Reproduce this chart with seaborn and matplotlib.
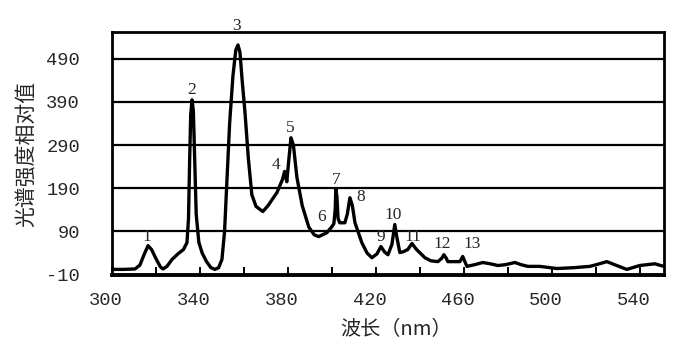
import numpy as np
import pandas as pd
import matplotlib
matplotlib.use("Agg")
import matplotlib.pyplot as plt
import matplotlib.transforms as mtransforms
import seaborn as sns

# ---- data ----
wavelength = [300.5, 305, 310.5, 312.7, 314.5, 316.4, 318, 320, 322, 323.2,
              325, 327.3, 330, 332.5, 334.1, 334.8, 335.3, 335.8, 336.4, 337.0,
              337.6, 338.3, 339.5, 341, 343, 345, 346.8, 348.5, 350, 351.2,
              352.2, 353.5, 355, 356.3, 357.3, 358.2, 359.2, 360.5, 362, 363.6,
              365.5, 368.6, 371, 375, 377.5, 378.5, 379.5, 380.3, 381.4, 382.5,
              384.1, 386.5, 389.5, 392, 394, 397.7, 400, 400.9, 401.5, 401.8,
              402.3, 402.8, 403.6, 405.9, 407, 408.2, 409.3, 410.5, 413.6, 416,
              418.2, 420.5, 422.3, 424, 425.5, 427.3, 428.6, 429.6, 430.9, 432.5,
              434.5, 436.4, 438.5, 442.3, 445, 448.2, 450, 450.9, 452, 452.7,
              456, 458.2, 459.5, 460.3, 461.4, 465, 468.6, 472, 475.5, 479,
              483.2, 486, 489.1, 494.5, 502.3, 510, 517.3, 521, 525, 529,
              534.1, 540, 546.8, 550.9]
intensity = [2, 2, 3, 12, 35, 57, 48, 27, 8, 3,
             9, 25, 38, 48, 64, 120, 250, 360, 395, 370,
             260, 130, 65, 40, 20, 6, 2, 6, 25, 90,
             200, 340, 450, 510, 522, 505, 440, 365, 260, 175,
             148, 136, 150, 180, 210, 229, 205, 250, 307, 290,
             215, 150, 100, 82, 78, 87, 101, 108, 140, 189,
             170, 120, 110, 110, 130, 168, 150, 110, 64, 40,
             29, 38, 55, 42, 36, 60, 106, 75, 41, 43,
             48, 62, 48, 29, 22, 20, 28, 36, 28, 20,
             20, 20, 32, 22, 9, 13, 18, 15, 11, 13,
             18, 13, 9, 9, 4, 6, 9, 14, 20, 12,
             2, 11, 15, 9]

peak_labels = ["1", "2", "3", "4", "5", "6", "7", "8", "9", "10", "11", "12", "13"]
label_x = [316.0, 336.4, 356.8, 374.5, 381.0, 395.5, 401.8, 413.2, 422.3, 427.7, 436.8, 450.0, 463.6]
label_y = [78, 418, 566, 245, 330, 124, 210, 170, 76, 129, 78, 62, 62]

x_ticks = [300, 340, 380, 420, 460, 500, 540]
x_minor = [320, 360, 400, 440, 480, 520]
y_ticks = [-10, 90, 190, 290, 390, 490]
x_label = "波长（nm）"
y_label = "光谱强度相对值"

df = pd.DataFrame({"wavelength": wavelength, "intensity": intensity})

sns.set_style("white")
plt.rcParams["font.family"] = ["Liberation Mono", "Noto Sans CJK SC", "DejaVu Sans"]

fig = plt.figure(figsize=(6.92, 3.56), dpi=100)
ax = fig.add_axes([0.1618, 0.2275, 0.7977, 0.6826])

sns.lineplot(data=df, x="wavelength", y="intensity", ax=ax, color="black",
             linewidth=2.4, sort=False)

ax.set_xlim(300, 551)
ax.set_ylim(-11, 552)
ax.set_xticks(x_ticks)
ax.set_xticks(x_minor, minor=True)
ax.set_yticks(y_ticks)
ax.set_xticklabels([str(v) for v in x_ticks], fontsize=13.5)
ax.set_yticklabels([str(v) for v in y_ticks], fontsize=13.5)
ax.tick_params(axis="x", which="both", direction="in", length=6, width=1.4,
               color="black", pad=12, bottom=True)
ax.tick_params(axis="y", length=0, pad=23)

# x tick labels sit slightly left of their ticks in the reference
shift = mtransforms.ScaledTranslation(-6 / 100, 0, fig.dpi_scale_trans)
for lbl in ax.get_xticklabels():
    lbl.set_transform(lbl.get_transform() + shift)

ax.yaxis.grid(True, color="black", linewidth=1.6)
ax.xaxis.grid(False)
for s in ax.spines.values():
    s.set_color("black")
    s.set_linewidth(2.0)
ax.spines["bottom"].set_linewidth(2.8)

for t, lx, ly in zip(peak_labels, label_x, label_y):
    ax.text(lx, ly, t, ha="center", va="center", fontsize=12.5, clip_on=False,
            family=["Liberation Serif"])

ax.set_xlabel(x_label, fontsize=14.5, family=["Noto Sans CJK SC", "DejaVu Sans"])
ax.set_ylabel(y_label, fontsize=15, family=["Noto Sans CJK SC", "DejaVu Sans"])
ax.xaxis.set_label_coords(0.515, -0.18)
ax.yaxis.set_label_coords(-0.136, 0.5)

fig.savefig("out.png", dpi=100)
